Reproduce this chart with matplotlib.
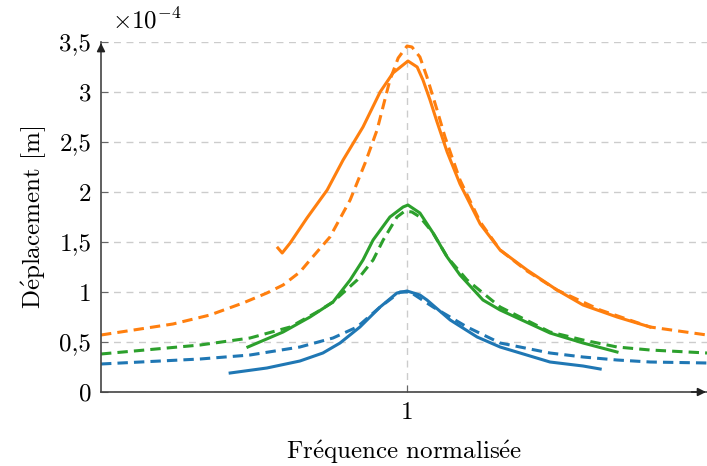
#!/usr/bin/env python3
import matplotlib
matplotlib.use('Agg')
import matplotlib.pyplot as plt
from matplotlib.ticker import FuncFormatter, FixedLocator

# normalised frequency and displacement (in units of 1e-4 m)
blue_model_f = [0.0, 0.324, 0.487, 0.650, 0.758, 0.837, 0.912, 0.977, 1.010, 1.085, 1.196, 1.304, 1.467, 1.575,
                1.686, 1.794, 1.980]
blue_model_u = [0.28, 0.33, 0.37, 0.45, 0.54, 0.65, 0.85, 1.00, 1.00, 0.85, 0.65, 0.49, 0.39, 0.35,
                0.32, 0.30, 0.29]
blue_meas_f = [0.422, 0.542, 0.650, 0.725, 0.781, 0.846, 0.912, 0.967, 1.0, 1.042, 1.065, 1.141, 1.229, 1.304,
               1.467, 1.575, 1.631]
blue_meas_u = [0.19, 0.24, 0.31, 0.39, 0.49, 0.65, 0.85, 0.99, 1.01, 0.97, 0.92, 0.72, 0.55, 0.45,
               0.30, 0.26, 0.23]

green_model_f = [0.0, 0.324, 0.487, 0.618, 0.706, 0.758, 0.837, 0.889, 0.922, 0.967, 0.993, 1.016, 1.042, 1.085,
                 1.131, 1.196, 1.304, 1.467, 1.575, 1.686, 1.794, 1.980]
green_model_u = [0.38, 0.47, 0.54, 0.65, 0.80, 0.90, 1.12, 1.32, 1.52, 1.75, 1.81, 1.80, 1.75, 1.59,
                 1.35, 1.12, 0.85, 0.60, 0.52, 0.45, 0.42, 0.39]
green_meas_f = [0.480, 0.595, 0.683, 0.758, 0.814, 0.856, 0.889, 0.944, 0.987, 1.003, 1.042, 1.085, 1.131, 1.173,
                1.248, 1.304, 1.467, 1.575, 1.686]
green_meas_u = [0.45, 0.60, 0.75, 0.90, 1.12, 1.32, 1.52, 1.75, 1.85, 1.87, 1.79, 1.59, 1.35, 1.17,
                0.92, 0.82, 0.59, 0.49, 0.40]

orange_model_f = [0.0, 0.235, 0.356, 0.464, 0.542, 0.595, 0.650, 0.683, 0.748, 0.814, 0.863, 0.902, 0.944, 0.971,
                  1.0, 1.016, 1.042, 1.065, 1.098, 1.124, 1.173, 1.239, 1.304, 1.392, 1.490, 1.631, 1.794, 1.980]
orange_model_u = [0.57, 0.68, 0.77, 0.89, 0.99, 1.07, 1.20, 1.32, 1.55, 1.92, 2.29, 2.62, 3.12, 3.34,
                  3.46, 3.45, 3.35, 3.15, 2.82, 2.55, 2.12, 1.70, 1.42, 1.21, 1.02, 0.82, 0.65, 0.57]
orange_meas_f = [0.578, 0.592, 0.618, 0.673, 0.739, 0.791, 0.856, 0.912, 0.954, 1.003, 1.033, 1.052, 1.075, 1.098,
                 1.131, 1.173, 1.239, 1.304, 1.392, 1.490, 1.575, 1.686, 1.794]
orange_meas_u = [1.44, 1.39, 1.49, 1.74, 2.02, 2.32, 2.65, 3.00, 3.19, 3.31, 3.25, 3.12, 2.92, 2.70,
                 2.40, 2.08, 1.68, 1.42, 1.22, 1.02, 0.87, 0.75, 0.65]

plt.rcParams['font.family'] = ['cmr10', 'DejaVu Serif']
plt.rcParams['mathtext.fontset'] = 'cm'
plt.rcParams['axes.unicode_minus'] = False

fig = plt.figure(figsize=(7.07, 4.66), dpi=100)
ax = fig.add_axes([101 / 707, 1 - 392 / 466, 1 - 101 / 707, 350 / 466])

lw = 2.2
dash = (0, (3.4, 2.0))
ax.plot(blue_model_f, blue_model_u, color='#1f77b4', lw=lw, ls=dash)
ax.plot(blue_meas_f, blue_meas_u, color='#1f77b4', lw=lw)
ax.plot(green_model_f, green_model_u, color='#2ca02c', lw=lw, ls=dash)
ax.plot(green_meas_f, green_meas_u, color='#2ca02c', lw=lw)
ax.plot(orange_model_f, orange_model_u, color='#ff7f0e', lw=lw, ls=dash)
ax.plot(orange_meas_f, orange_meas_u, color='#ff7f0e', lw=lw)

ax.set_xlim(0, 1.98)
ax.set_ylim(0, 3.5)
ax.xaxis.set_major_locator(FixedLocator([1]))
ax.yaxis.set_major_locator(FixedLocator([0, 0.5, 1, 1.5, 2, 2.5, 3, 3.5]))
ax.yaxis.set_major_formatter(FuncFormatter(lambda v, p: ('%g' % v).replace('.', ',')))
ax.grid(True, color='#cccccc', ls=(0, (5, 4)), lw=1.0)
ax.set_axisbelow(True)

for s in ['top', 'right']:
    ax.spines[s].set_visible(False)
for s in ['left', 'bottom']:
    ax.spines[s].set_color('#444444')
    ax.spines[s].set_linewidth(1.2)
ax.tick_params(direction='in', length=5, color='#666666', labelsize=18, pad=7)

# axis arrows
ax.annotate('', xy=(0, 1.005), xytext=(0, 0.97), xycoords='axes fraction',
            arrowprops=dict(arrowstyle='-|>', color='#222222', lw=1.2, mutation_scale=12),
            annotation_clip=False)
ax.annotate('', xy=(1.003, 0), xytext=(0.97, 0), xycoords='axes fraction',
            arrowprops=dict(arrowstyle='-|>', color='#222222', lw=1.2, mutation_scale=12),
            annotation_clip=False)

ax.text(0.018, 1.04, r'$\times10^{-4}$', transform=ax.transAxes, fontsize=18, va='baseline', ha='left')
ax.set_xlabel(r'Fr$\mathrm{\acute{e}}$quence normalis$\mathrm{\acute{e}}$e', fontsize=18, labelpad=10)
ax.set_ylabel(r'D$\mathrm{\acute{e}}$placement [m]', fontsize=18, labelpad=8)

fig.savefig('out.png', dpi=100)
